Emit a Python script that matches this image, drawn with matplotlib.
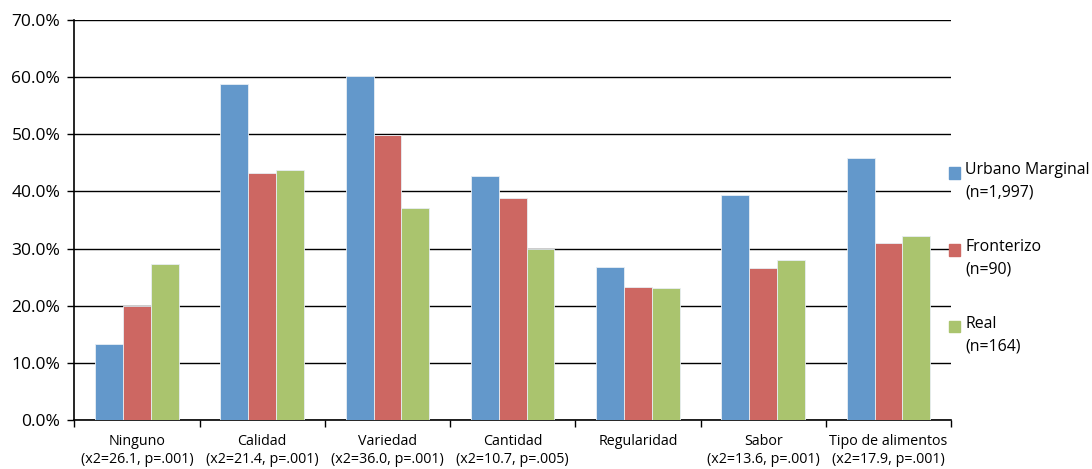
import numpy as np
import matplotlib.pyplot as plt
from matplotlib.patches import Rectangle
from matplotlib.ticker import FuncFormatter

categories = ['Ninguno\n(x2=26.1, p=.001)', 'Calidad\n(x2=21.4, p=.001)',
              'Variedad\n(x2=36.0, p=.001)', 'Cantidad\n(x2=10.7, p=.005)',
              'Regularidad', 'Sabor\n(x2=13.6, p=.001)',
              'Tipo de alimentos\n(x2=17.9, p=.001)']
series_names = ['Urbano Marginal\n(n=1,997)', 'Fronterizo\n(n=90)', 'Real\n(n=164)']
urbano = [13.3, 58.8, 60.2, 42.7, 26.7, 39.4, 45.8]
fronterizo = [20.0, 43.2, 49.9, 38.8, 23.2, 26.6, 30.9]
real = [27.3, 43.8, 37.1, 29.9, 23.1, 28.0, 32.2]
colors = ['#6398CB', '#CD6762', '#AAC46E']

plt.rcParams['font.family'] = ['Open Sans', 'DejaVu Sans']

fig = plt.figure(figsize=(10.92, 4.69), dpi=100)
ax = fig.add_axes([0.068, 0.105, 0.803, 0.852])

x = np.arange(len(categories))
w = 1 / 4.5
for i, (vals, c) in enumerate(zip([urbano, fronterizo, real], colors)):
    ax.bar(x + (i - 1) * w, vals, w, color=c, edgecolor='#E8EEF4', linewidth=0.6, zorder=3)

ax.set_xlim(-0.5, len(categories) - 0.5)
ax.set_ylim(0, 70)
ax.set_yticks(np.arange(0, 71, 10))
ax.yaxis.set_major_formatter(FuncFormatter(lambda v, p: f'{v:.1f}%'))
ax.grid(axis='y', color='black', linewidth=1.0, zorder=1)
ax.set_axisbelow(True)

ax.set_xticks(x)
ax.set_xticklabels(categories, fontsize=10.3, linespacing=1.3)
ax.set_xticks(np.arange(-0.5, len(categories)), minor=True)
ax.tick_params(axis='x', which='major', length=0, pad=10)
ax.tick_params(axis='x', which='minor', length=5, width=1, direction='out')
ax.tick_params(axis='y', length=5, width=1, labelsize=12.5, pad=5)

for s in ['top', 'right']:
    ax.spines[s].set_visible(False)
for s in ['left', 'bottom']:
    ax.spines[s].set_linewidth(1.2)

# legend drawn by hand: square aligned with the first text line
for k, (name, c) in enumerate(zip(series_names, colors)):
    yk = 0.6175 - k * 0.1925
    ax.add_patch(Rectangle((0.998, yk - 0.014), 0.0125, 0.029, transform=ax.transAxes,
                           color=c, clip_on=False))
    ax.text(1.016, yk + 0.027, name, transform=ax.transAxes, fontsize=11.4,
            va='top', ha='left', linespacing=1.55)

fig.savefig('out.png', dpi=100)
